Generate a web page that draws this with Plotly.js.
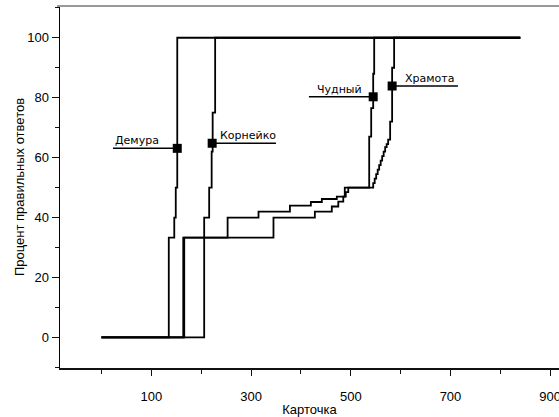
<!DOCTYPE html>
<html>
<head>
<meta charset="utf-8">
<script src="https://cdn.plot.ly/plotly-3.0.1.min.js"></script>
<style>html,body{margin:0;padding:0;background:#fff;}#chart{width:559px;height:417px;}</style>
</head>
<body>
<div id="chart"></div>
<script>
// Step curves: card number (x) at which the cumulative percent (y) changes
const demuraX = [0, 135, 146, 149, 152, 840];
const demuraY = [0, 33.3, 40, 50, 100, 100];

const korneikoX = [0, 206, 216, 221, 223, 228, 840];
const korneikoY = [0, 40, 50, 62, 75, 100, 100];

const chudnyX = [0, 164, 253, 315, 378, 420, 442, 472, 488, 537, 541, 545, 547, 840];
const chudnyY = [0, 33.3, 40, 42, 44, 45.2, 46.2, 47, 50, 67, 76.5, 88, 100, 100];

const khramotaX = [0, 166, 345, 428, 462, 475, 485, 490, 495, 545, 548, 551, 554, 557, 560, 563, 566, 569, 572, 575, 579, 583, 587, 840];
const khramotaY = [0, 33.3, 40, 42, 43.7, 45.3, 47, 48.5, 50, 51.5, 53, 54.5, 56, 57.5, 59, 60.5, 62, 63.5, 64.5, 66, 72, 90, 100, 100];

// Labels: name, marker position, end of the leader line, start of text
const labelNames = ['Демура', 'Корнейко', 'Чудный', 'Храмота'];
const markerX = [152, 222, 545, 583];
const markerY = [63.1, 64.8, 80.3, 83.9];
const leaderEndX = [23, 350, 416, 715];
const labelTextX = [23, 234, 428, 605];

const xTickStart = 100, xTickStep = 200;
const yTickStart = 0, yTickStep = 20;

const lineStyle = {color: '#000', width: 1.8, shape: 'hv'};
const traces = [
  {x: demuraX, y: demuraY, name: labelNames[0]},
  {x: korneikoX, y: korneikoY, name: labelNames[1]},
  {x: chudnyX, y: chudnyY, name: labelNames[2]},
  {x: khramotaX, y: khramotaY, name: labelNames[3]}
].map(t => Object.assign(t, {type: 'scatter', mode: 'lines', line: lineStyle, hoverinfo: 'x+y+name'}));

labelNames.forEach((n, i) => {
  traces.push({
    type: 'scatter', mode: 'lines',
    x: [markerX[i], leaderEndX[i]], y: [markerY[i], markerY[i]],
    line: {color: '#000', width: 1.5}, hoverinfo: 'skip'
  });
});
traces.push({
  type: 'scatter', mode: 'markers', x: markerX, y: markerY, text: labelNames,
  marker: {symbol: 'square', size: 9, color: '#000'}, hoverinfo: 'text'
});

const annotations = labelNames.map((n, i) => ({
  x: labelTextX[i], y: markerY[i], xref: 'x', yref: 'y',
  text: n, showarrow: false, xanchor: 'left', yanchor: 'bottom', yshift: -1,
  font: {family: 'DejaVu Sans, Verdana, sans-serif', size: 11, color: '#000'}
}));

const layout = {
  width: 559, height: 417,
  margin: {l: 60, r: 0, t: 6, b: 49},
  paper_bgcolor: '#fff', plot_bgcolor: '#fff',
  showlegend: false,
  font: {family: 'Liberation Sans, Arial, sans-serif', size: 13, color: '#000'},
  xaxis: {
    range: [-83.2, 917.7], showgrid: false, zeroline: false,
    showline: true, linecolor: '#111', linewidth: 1.5,
    ticks: 'outside', ticklen: 6, tickwidth: 1, tickcolor: '#111',
    tick0: xTickStart, dtick: xTickStep,
    ticklabeloverflow: 'allow', ticklabelstandoff: 10,
    minor: {ticks: 'outside', tick0: 0, dtick: xTickStep, ticklen: 4, tickwidth: 1, tickcolor: '#111', showgrid: false},
    title: {text: 'Карточка', font: {size: 13}, standoff: 4}
  },
  yaxis: {
    range: [-10.2, 110.6], showgrid: false, zeroline: false,
    showline: true, linecolor: '#000', linewidth: 1.5,
    ticks: 'outside', ticklen: 7, tickwidth: 1, tickcolor: '#111',
    tick0: yTickStart, dtick: yTickStep,
    minor: {ticks: 'outside', tick0: 10, dtick: yTickStep, ticklen: 4, tickwidth: 1, tickcolor: '#111', showgrid: false},
    title: {text: 'Процент правильных ответов', font: {size: 13}}
  },
  shapes: [{
    type: 'line', xref: 'paper', yref: 'paper', x0: -0.006, x1: 1, y0: 1, y1: 1,
    line: {color: '#999', width: 2}
  }],
  annotations: annotations
};

Plotly.newPlot('chart', traces, layout, {displayModeBar: false, staticPlot: true});
</script>
</body>
</html>
